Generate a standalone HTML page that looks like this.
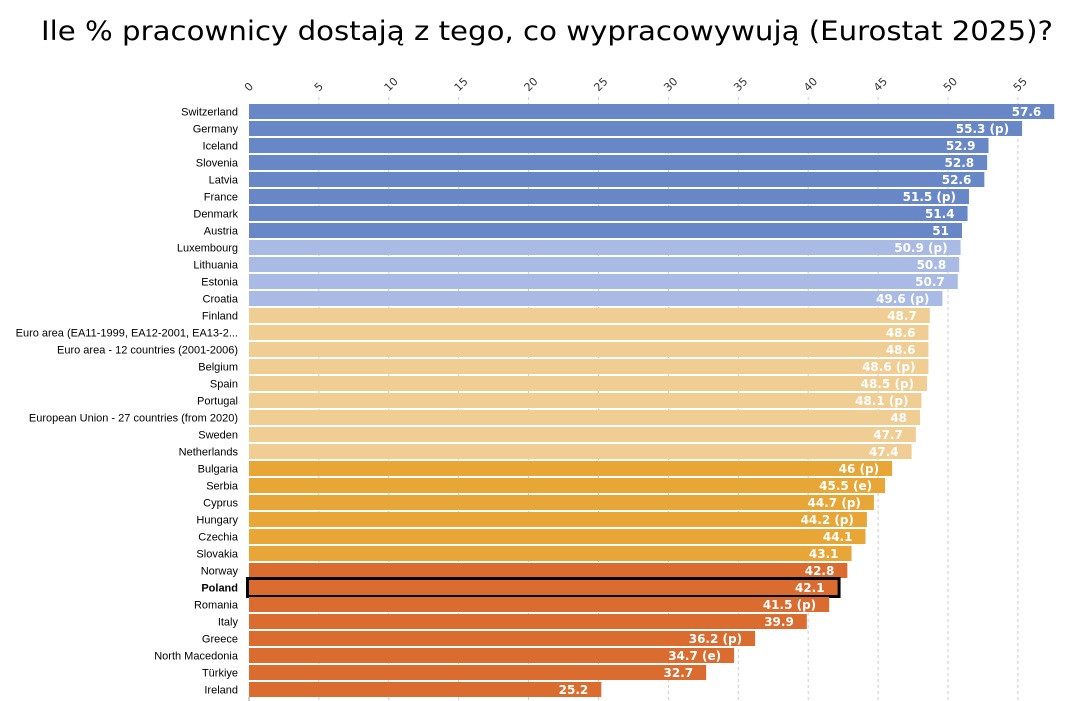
<!DOCTYPE html>
<html><head><meta charset="utf-8"><style>
body{margin:0;background:#fff;}
svg{display:block;}
</style></head><body>
<svg width="1075" height="701" xmlns="http://www.w3.org/2000/svg">
<text x="547" y="40" text-anchor="middle" font-family="DejaVu Sans, sans-serif" font-size="27" fill="#000" textLength="1012" lengthAdjust="spacingAndGlyphs">Ile % pracownicy dostają z tego, co wypracowywują (Eurostat 2025)?</text>
<g id="grid" stroke="#ccc" stroke-dasharray="3,3" stroke-width="1"></g>
<g id="ticks" font-family="DejaVu Sans, sans-serif" font-size="11" fill="#333"></g>
<g id="bars"></g>
<g id="labels" font-family="Liberation Sans, DejaVu Sans, sans-serif" font-size="11" fill="#000" text-anchor="end"></g>
<g id="vals" font-family="DejaVu Sans, sans-serif" font-size="12" font-weight="bold" fill="#fff" text-anchor="end"></g>
</svg>
<script>
var data=[["Switzerland",57.6,"57.6",0],["Germany",55.3,"55.3 (p)",0],["Iceland",52.9,"52.9",0],["Slovenia",52.8,"52.8",0],["Latvia",52.6,"52.6",0],["France",51.5,"51.5 (p)",0],["Denmark",51.4,"51.4",0],["Austria",51,"51",0],["Luxembourg",50.9,"50.9 (p)",1],["Lithuania",50.8,"50.8",1],["Estonia",50.7,"50.7",1],["Croatia",49.6,"49.6 (p)",1],["Finland",48.7,"48.7",2],["Euro area (EA11-1999, EA12-2001, EA13-2...",48.6,"48.6",2],["Euro area - 12 countries (2001-2006)",48.6,"48.6",2],["Belgium",48.6,"48.6 (p)",2],["Spain",48.5,"48.5 (p)",2],["Portugal",48.1,"48.1 (p)",2],["European Union - 27 countries (from 2020)",48,"48",2],["Sweden",47.7,"47.7",2],["Netherlands",47.4,"47.4",2],["Bulgaria",46,"46 (p)",3],["Serbia",45.5,"45.5 (e)",3],["Cyprus",44.7,"44.7 (p)",3],["Hungary",44.2,"44.2 (p)",3],["Czechia",44.1,"44.1",3],["Slovakia",43.1,"43.1",3],["Norway",42.8,"42.8",4],["Poland",42.1,"42.1",4],["Romania",41.5,"41.5 (p)",4],["Italy",39.9,"39.9",4],["Greece",36.2,"36.2 (p)",4],["North Macedonia",34.7,"34.7 (e)",4],["Türkiye",32.7,"32.7",4],["Ireland",25.2,"25.2",4]];
var cols=["#6887c6","#a9bae4","#f0cd93","#e8a636","#da6c2f"];
var NS="http://www.w3.org/2000/svg";
function el(p,t,a,txt){var e=document.createElementNS(NS,t);for(var k in a)e.setAttribute(k,a[k]);if(txt!=null)e.textContent=txt;document.getElementById(p).appendChild(e);return e;}
var x0=249,s=13.98;
for(var v=0;v<=55;v+=5){var x=x0+v*s;
 if(v>0)el("grid","line",{x1:x,y1:97,x2:x,y2:701});
 el("ticks","text",{x:x,y:92,transform:"rotate(-45 "+x+" 92)"},String(v));}
data.forEach(function(d,i){var y=104+17*i,w=d[1]*s;
 el("bars","rect",{x:x0,y:y,width:w,height:15,fill:cols[d[3]]});
 var l=el("labels","text",{x:238,y:y+11.5},d[0]);
 if(d[0]=="Poland"){l.setAttribute("font-weight","bold");el("bars","rect",{x:247.5,y:y-1.5,width:w+3,height:18,fill:"none",stroke:"#000","stroke-width":3});}
 el("vals","text",{x:x0+w-13,y:y+12},d[2]);});
el("bars","line",{x1:249,y1:697,x2:249,y2:701,stroke:"#999"});
</script>
</body></html>
